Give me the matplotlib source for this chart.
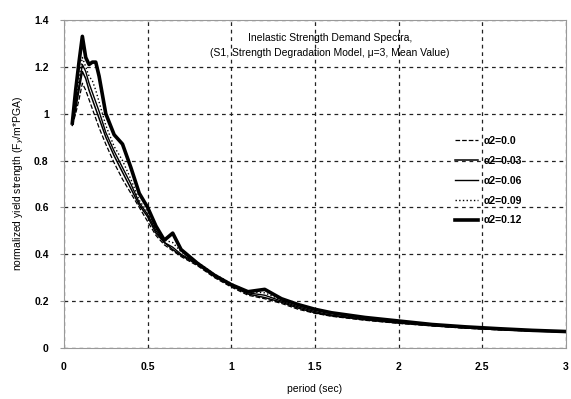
import matplotlib
matplotlib.use("Agg")
import matplotlib.pyplot as plt

plt.rcParams['font.family'] = ['Liberation Sans', 'DejaVu Sans']

period = [0.05, 0.07, 0.09, 0.11, 0.13, 0.15, 0.17, 0.19, 0.21, 0.25, 0.3, 0.35,
          0.4, 0.45, 0.5, 0.55, 0.6, 0.65, 0.7, 0.8, 0.9, 1.0, 1.1, 1.2, 1.3,
          1.4, 1.5, 1.6, 1.8, 2.0, 2.2, 2.4, 2.6, 2.8, 3.0]

a2_000 = [0.95, 1.00, 1.06, 1.13, 1.10, 1.06, 1.02, 0.98, 0.94, 0.87, 0.79, 0.72,
          0.66, 0.60, 0.54, 0.48, 0.44, 0.415, 0.39, 0.35, 0.30, 0.26, 0.225, 0.21, 0.19,
          0.165, 0.148, 0.135, 0.118, 0.105, 0.094, 0.084, 0.077, 0.072, 0.068]
a2_003 = [0.95, 1.02, 1.10, 1.18, 1.15, 1.10, 1.06, 1.02, 0.98, 0.90, 0.82, 0.75,
          0.68, 0.61, 0.56, 0.49, 0.45, 0.42, 0.395, 0.355, 0.305, 0.265, 0.23, 0.215, 0.195,
          0.17, 0.15, 0.137, 0.12, 0.106, 0.095, 0.085, 0.078, 0.072, 0.068]
a2_006 = [0.96, 1.04, 1.12, 1.21, 1.18, 1.13, 1.09, 1.05, 1.01, 0.92, 0.84, 0.77,
          0.70, 0.62, 0.57, 0.50, 0.45, 0.43, 0.40, 0.36, 0.31, 0.27, 0.235, 0.225, 0.20,
          0.175, 0.155, 0.14, 0.122, 0.108, 0.096, 0.086, 0.079, 0.073, 0.069]
a2_009 = [0.96, 1.05, 1.15, 1.24, 1.20, 1.16, 1.14, 1.10, 1.05, 0.95, 0.86, 0.80,
          0.72, 0.63, 0.58, 0.51, 0.46, 0.45, 0.41, 0.365, 0.315, 0.275, 0.24, 0.235, 0.205,
          0.18, 0.16, 0.145, 0.125, 0.11, 0.098, 0.088, 0.08, 0.074, 0.07]
a2_012 = [0.96, 1.10, 1.22, 1.33, 1.24, 1.21, 1.22, 1.22, 1.16, 1.00, 0.91, 0.87,
          0.77, 0.66, 0.60, 0.52, 0.46, 0.49, 0.42, 0.36, 0.31, 0.27, 0.24, 0.25, 0.21,
          0.185, 0.165, 0.15, 0.13, 0.115, 0.10, 0.09, 0.082, 0.075, 0.07]

labels = ['α2=0.0', 'α2=0.03', 'α2=0.06', 'α2=0.09', 'α2=0.12']
series = [a2_000, a2_003, a2_006, a2_009, a2_012]
styles = [('--', 0.9), ('-', 1.1), ('-', 1.0), (':', 1.0), ('-', 2.6)]

fig = plt.figure(figsize=(5.71, 3.99), dpi=100)
ax = fig.add_axes([0.112, 0.128, 0.879, 0.822])

for vals, lab, (ls, lw) in zip(series, labels, styles):
    ax.plot(period, vals, color='black', linestyle=ls, linewidth=lw, label=lab)

ax.set_xlim(0, 3)
ax.set_ylim(0, 1.4)
ax.set_xticks([0, 0.5, 1, 1.5, 2, 2.5, 3])
ax.set_xticklabels(['0', '0.5', '1', '1.5', '2', '2.5', '3'])
ax.set_yticks([0, 0.2, 0.4, 0.6, 0.8, 1.0, 1.2, 1.4])
ax.set_yticklabels(['0', '0.2', '0.4', '0.6', '0.8', '1', '1.2', '1.4'])
ax.grid(True, color='#222222', linestyle=(0, (3, 3)), linewidth=0.9)
ax.set_axisbelow(True)
for s in ax.spines.values():
    s.set_color('#999999')
ax.tick_params(axis='y', length=3, color='#999999', labelsize=7.5, pad=8)
ax.tick_params(axis='x', length=0, labelsize=7.5, pad=10)
for t in ax.get_xticklabels() + ax.get_yticklabels():
    t.set_fontweight('bold')

ax.set_xlabel('period (sec)', fontsize=7.5, labelpad=9)
ax.set_ylabel('normalized yield strength (F$_y$/m*PGA)', fontsize=7.5, labelpad=6)

ax.text(0.53, 0.96, 'Inelastic Strength Demand Spectra,\n'
        '(S1, Strength Degradation Model, μ=3, Mean Value)',
        transform=ax.transAxes, ha='center', va='top', fontsize=7.5,
        linespacing=1.6)

leg = ax.legend(loc='center left', bbox_to_anchor=(0.76, 0.51), frameon=False,
                handlelength=2.2, labelspacing=0.95, handletextpad=0.6,
                prop={'weight': 'bold', 'size': 7.5})

fig.savefig('out.png', dpi=100)
